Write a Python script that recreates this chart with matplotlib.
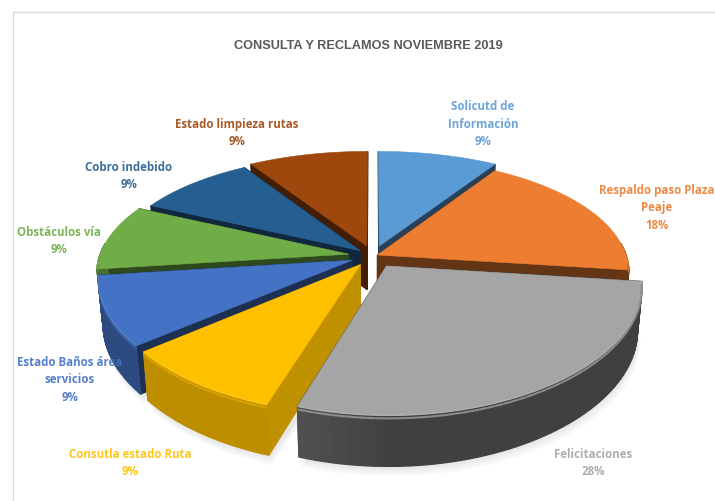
import numpy as np
import matplotlib
matplotlib.use("Agg")
import matplotlib.pyplot as plt
from matplotlib.patches import Polygon

# datos del grafico
categorias = ["Solicutd de\nInformación", "Respaldo paso Plaza\nPeaje", "Felicitaciones",
              "Consutla estado Ruta", "Estado Baños área\nservicios", "Obstáculos vía",
              "Cobro indebido", "Estado limpieza rutas"]
valores = [9, 18, 28, 9, 9, 9, 9, 9]
colores = ["#5B9BD5", "#ED7D31", "#A5A5A5", "#FFC000", "#4472C4", "#70AD47", "#255E91", "#9E480E"]
separacion = [0.09, 0.02, 0.10, 0.09, 0.09, 0.10, 0.07, 0.09]
# orden de dibujo, de atras hacia adelante
orden = [7, 0, 6, 1, 5, 4, 3, 2]
# centro de cada etiqueta en pixeles
pos_etiquetas = [(483, 124), (657, 208), (593, 463), (130, 463), (70, 380), (59, 241), (129, 176), (237, 133)]

fig = plt.figure(figsize=(7.15, 5.02), dpi=100)
ax = fig.add_axes([0, 0, 1, 1])
ax.set_xlim(0, 715)
ax.set_ylim(502, 0)
ax.axis("off")

# el pie real se calcula en unos ejes ocultos y luego se proyecta
aux = fig.add_axes([0, 0, 0.1, 0.1])
wedges, _ = aux.pie(valores, explode=separacion, startangle=90, counterclock=False, normalize=True)
aux.set_visible(False)

cx, cy = 373, 257
elev = np.radians(28)
dist = 4.6
focal = 1140
# la perspectiva horizontal del original es mas suave que la vertical
dist_x = 5.77
focal_x = 1436
alto = 0.205


def proy(x, y, z):
    v = y * np.sin(elev) + z * np.cos(elev)
    d = dist + y * np.cos(elev) - z * np.sin(elev)
    dx = dist_x + y * np.cos(elev) - z * np.sin(elev)
    return np.column_stack([cx + focal_x * x / dx, cy - focal * v / d])


def oscurece(c, f):
    return tuple(np.array(matplotlib.colors.to_rgb(c)) * f)


def mezcla(c, f):
    rgb = np.array(matplotlib.colors.to_rgb(c))
    return tuple(rgb + (1 - rgb) * f)


def cara(xy, color, zorder=2, **kw):
    ax.add_patch(Polygon(xy, closed=True, facecolor=color, edgecolor=kw.pop("edgecolor", color),
                         linewidth=kw.pop("linewidth", 0.9), zorder=zorder, **kw))


# sombra suave debajo
todos = []
for w in wedges:
    t = np.radians(np.linspace(w.theta1, w.theta2, 60))
    x = w.center[0] + w.r * np.cos(t)
    y = w.center[1] + w.r * np.sin(t)
    todos.append((x, y))
for i in [2, 3, 4]:
    x, y = todos[i]
    xy = proy(x, y, np.full_like(x, -alto))
    for k in range(1, 6):
        cara(np.vstack([xy + [k * 0.6, k * 2.0], [[cx, cy + 60]]]), "#000000", zorder=1, alpha=0.018, linewidth=0)

for i in orden:
    w = wedges[i]
    c = colores[i]
    t = np.radians(np.linspace(w.theta1, w.theta2, 60))
    ax0, ay0 = w.center
    x = ax0 + w.r * np.cos(t)
    y = ay0 + w.r * np.sin(t)
    z0 = np.zeros_like(x)
    z1 = z0 - alto
    arr = proy(x, y, z0)
    aba = proy(x, y, z1)
    apex_a = proy(np.array([ax0]), np.array([ay0]), np.array([0.0]))
    apex_b = proy(np.array([ax0]), np.array([ay0]), np.array([-alto]))

    # paredes rectas
    f_pared = 0.75 if i == 3 else 0.42
    cara(np.vstack([apex_a, arr[0], aba[0], apex_b]), oscurece(c, f_pared), zorder=3)
    cara(np.vstack([apex_a, arr[-1], aba[-1], apex_b]), oscurece(c, f_pared), zorder=3)

    # pared curva con degradado
    for j in range(len(t) - 1):
        if np.sin(t[j]) > 0.1:
            continue
        if i == 2:
            luz = 0.39 + 0.34 * np.clip(-np.cos(t[j]) * 0.9, 0, 1)
        elif i == 3:
            luz = 0.74
        elif i == 1:
            luz = 0.45
        else:
            luz = 0.66
        cara(np.vstack([arr[j], arr[j + 1], aba[j + 1], aba[j]]), oscurece(c, luz), zorder=3)

    # cara superior
    cara(np.vstack([apex_a, arr]), c, zorder=3, edgecolor=c, linewidth=0.4)

    # bisel en el borde
    for j in range(len(t) - 1):
        if np.sin(t[j]) > -0.05:
            continue
        b = proy(x[j:j + 2], y[j:j + 2], z0[j:j + 2] - 0.012)
        ax.plot(arr[j:j + 2, 0], arr[j:j + 2, 1], color=mezcla(c, 0.12), lw=1.0, zorder=3, solid_capstyle="butt")
        ax.plot(b[:, 0], b[:, 1], color=oscurece(c, 0.85), lw=1.5, zorder=3, solid_capstyle="butt")

# marco del grafico
ax.plot([13, 13], [502, 13], color="#D9D9D9", lw=1, zorder=1)
ax.plot([13, 715], [13, 13], color="#D9D9D9", lw=1, zorder=1)

ax.text(368, 46, "CONSULTA Y RECLAMOS NOVIEMBRE 2019", ha="center", va="center",
        fontsize=9.2, fontweight="bold", color="#595959", family="Liberation Sans", zorder=5)

for i, nombre in enumerate(categorias):
    px, py = pos_etiquetas[i]
    ax.text(px, py, f"{nombre}\n{valores[i]}%", ha="center", va="center", fontsize=8.3, fontweight="bold",
            color=colores[i], family="Open Sans", linespacing=1.45, alpha=0.9, zorder=5)

fig.savefig("out.png", dpi=100)
